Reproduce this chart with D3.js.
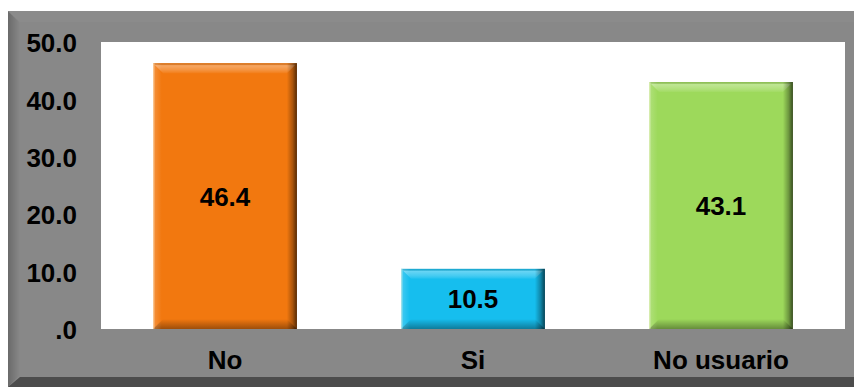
<!DOCTYPE html>
<html><head><meta charset="utf-8">
<script src="https://cdn.jsdelivr.net/npm/d3@7"></script>
<style>body{margin:0;background:#fff}svg{display:block}</style>
</head><body>
<script>
const categories = ["No", "Si", "No usuario"];
const values = [46.4, 10.5, 43.1];
const barColors = ["#F2780F", "#16BEEE", "#9DD95B"];
const tickValues = [0, 10, 20, 30, 40, 50];
const tickLabels = [".0", "10.0", "20.0", "30.0", "40.0", "50.0"];

const W = 854, H = 387;
const plot = {left: 101, right: 845, top: 42, bottom: 329};
const FONT = "Liberation Sans, Arial, sans-serif";
const svg = d3.select("body").append("svg").attr("width", W).attr("height", H);
const defs = svg.append("defs");

// outer panel
svg.append("rect").attr("x", 8).attr("y", 11).attr("width", W - 8).attr("height", H - 11).attr("fill", "#888888");
const lg = defs.append("linearGradient").attr("id", "leftEdge").attr("x1", 0).attr("x2", 1);
lg.append("stop").attr("offset", 0).attr("stop-color", "#6a6a6a");
lg.append("stop").attr("offset", 1).attr("stop-color", "#888888");
svg.append("polygon").attr("points", `8,11 20,23 20,375 8,387`).attr("fill", "url(#leftEdge)");
svg.append("polygon").attr("points", `8,11 ${W},11 ${W},22 20,22`).attr("fill", "#8b8b8b");
svg.append("polygon").attr("points", `8,387 20,377 ${W},377 ${W},387`).attr("fill", "#4c4c4c");

// plot area
svg.append("rect").attr("x", plot.left).attr("y", plot.top)
  .attr("width", plot.right - plot.left).attr("height", plot.bottom - plot.top).attr("fill", "#ffffff");

const x = d3.scaleBand().domain(categories).range([plot.left, plot.right]).paddingInner(0.42).paddingOuter(0.21);
const y = d3.scaleLinear().domain([0, 50]).range([plot.bottom, plot.top + 0.5]);

// y axis labels
const yAxis = d3.axisLeft(y).tickValues(tickValues).tickFormat((d, i) => tickLabels[i]).tickSize(0).tickPadding(0);
const ya = svg.append("g").attr("transform", `translate(77,1)`).call(yAxis);
ya.select(".domain").remove();
ya.selectAll("text").attr("font-family", FONT).attr("font-weight", "bold")
  .attr("font-size", 26).attr("fill", "#000");

// x axis labels
const xAxis = d3.axisBottom(x).tickSize(0).tickPadding(0);
const xa = svg.append("g").attr("transform", `translate(0,351)`).call(xAxis);
xa.select(".domain").remove();
xa.selectAll("text").attr("font-family", FONT).attr("font-weight", "bold")
  .attr("font-size", 26).attr("fill", "#000");

// side shading gradient
const sg = defs.append("linearGradient").attr("id", "sides").attr("x1", 0).attr("x2", 1);
[[0, "#fff8e0", 0.7], [0.015, "#ffffff", 0.15], [0.06, "#ffffff", 0.0], [0.93, "#000000", 0.0], [0.97, "#000000", 0.3], [1, "#000000", 0.65]]
  .forEach(s => sg.append("stop").attr("offset", s[0]).attr("stop-color", s[1]).attr("stop-opacity", s[2]));
const tg = defs.append("linearGradient").attr("id", "topband").attr("x1", 0).attr("x2", 0).attr("y1", 0).attr("y2", 1);
[[0, "#000000", 0.1], [0.25, "#ffffff", 0.35], [0.7, "#ffffff", 0.2], [1, "#ffffff", 0.05]]
  .forEach(s => tg.append("stop").attr("offset", s[0]).attr("stop-color", s[1]).attr("stop-opacity", s[2]));
const bgr = defs.append("linearGradient").attr("id", "botband").attr("x1", 0).attr("x2", 0).attr("y1", 0).attr("y2", 1);
[[0, "#000000", 0.0], [1, "#000000", 0.35]]
  .forEach(s => bgr.append("stop").attr("offset", s[0]).attr("stop-color", s[1]).attr("stop-opacity", s[2]));

// bars with bevel
const b = 10;
const data = categories.map((c, i) => ({c, v: values[i], col: barColors[i]}));
const g = svg.append("g");
data.forEach(d => {
  const x0 = x(d.c), x1 = x0 + x.bandwidth(), y0 = y(d.v), y1 = y(0);
  const bg = g.append("g");
  bg.append("rect").attr("x", x0).attr("y", y0).attr("width", x1 - x0).attr("height", y1 - y0).attr("fill", d.col);
  bg.append("polygon").attr("points", `${x0},${y0} ${x1},${y0} ${x1 - b},${y0 + b} ${x0 + b},${y0 + b}`)
    .attr("fill", "url(#topband)");
  bg.append("polygon").attr("points", `${x0},${y1} ${x1},${y1} ${x1 - b},${y1 - b} ${x0 + b},${y1 - b}`)
    .attr("fill", "url(#botband)");
  bg.append("rect").attr("x", x0).attr("y", y0).attr("width", x1 - x0).attr("height", y1 - y0).attr("fill", "url(#sides)");
  bg.append("text").attr("x", (x0 + x1) / 2).attr("y", (y0 + y1) / 2 + 9.5).attr("text-anchor", "middle")
    .attr("font-family", FONT).attr("font-weight", "bold")
    .attr("font-size", 26).attr("fill", "#000").text(d.v.toFixed(1));
});
</script>
</body></html>
